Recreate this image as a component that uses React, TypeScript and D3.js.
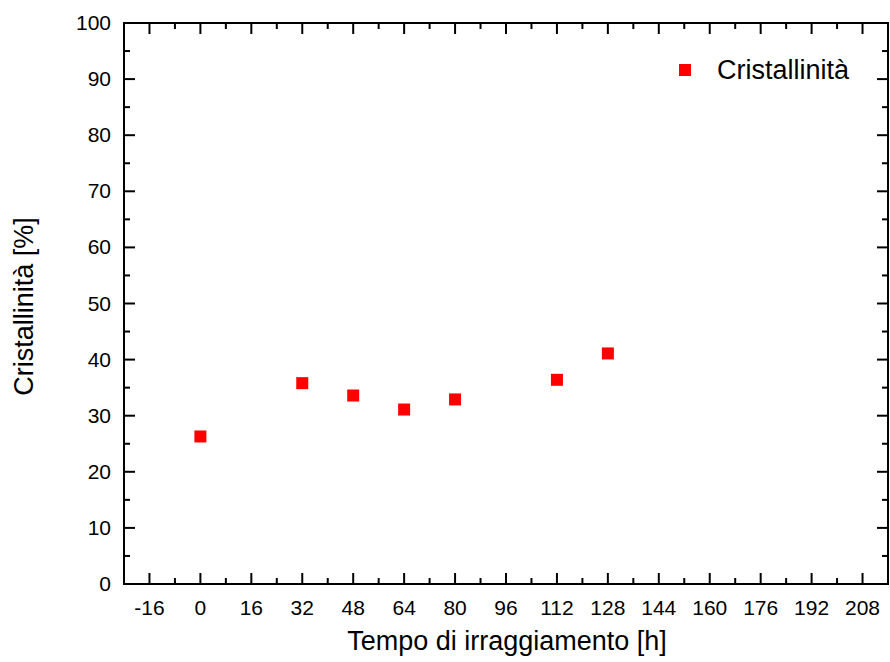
import React from "react";
import * as d3 from "d3";

const hours = [0, 32, 48, 64, 80, 112, 128];
const crystallinity = [26.3, 35.8, 33.6, 31.1, 32.9, 36.4, 41.1];
const xTicks = [-16, 0, 16, 32, 48, 64, 80, 96, 112, 128, 144, 160, 176, 192, 208];
const yTicks = [0, 10, 20, 30, 40, 50, 60, 70, 80, 90, 100];
const seriesName = "Cristallinità";

export default function App() {
  const W = 890, H = 662;
  const L = 124, R = 888, T = 23, B = 584;
  const x = d3.scaleLinear().domain([-24, 216]).range([L, R]);
  const y = d3.scaleLinear().domain([0, 100]).range([B, T]);
  const xMinor = d3.range(-24, 217, 8).filter((v) => !xTicks.includes(v) && v > -24 && v < 216);
  const yMinor = d3.range(5, 100, 10);
  const font = "Liberation Sans, Arial, sans-serif";
  const maj = 11, mnr = 6;
  return (
    <svg width={W} height={H} style={{ position: "absolute", left: 0, top: 0, background: "#fff" }}>
      <g stroke="#000" strokeWidth={2}>
        {xTicks.map((v) => (
          <g key={"xt" + v}>
            <line x1={x(v)} x2={x(v)} y1={B} y2={B - maj} />
            <line x1={x(v)} x2={x(v)} y1={T} y2={T + maj} />
          </g>
        ))}
        {xMinor.map((v) => (
          <g key={"xm" + v}>
            <line x1={x(v)} x2={x(v)} y1={B} y2={B - mnr} />
            <line x1={x(v)} x2={x(v)} y1={T} y2={T + mnr} />
          </g>
        ))}
        {yTicks.map((v) => (
          <g key={"yt" + v}>
            <line x1={L} x2={L + maj} y1={y(v)} y2={y(v)} />
            <line x1={R} x2={R - maj} y1={y(v)} y2={y(v)} />
          </g>
        ))}
        {yMinor.map((v) => (
          <g key={"ym" + v}>
            <line x1={L} x2={L + mnr} y1={y(v)} y2={y(v)} />
            <line x1={R} x2={R - mnr} y1={y(v)} y2={y(v)} />
          </g>
        ))}
        <rect x={L} y={T} width={R - L} height={B - T} fill="none" />
      </g>
      <g fontFamily={font} fontSize={21} fill="#000">
        {xTicks.map((v) => (
          <text key={"xl" + v} x={x(v)} y={B + 31} textAnchor="middle">{v}</text>
        ))}
        {yTicks.map((v) => (
          <text key={"yl" + v} x={L - 13} y={y(v) + 7} textAnchor="end">{v}</text>
        ))}
      </g>
      <text x={(L + R) / 2 + 1} y={650} textAnchor="middle" fontFamily={font} fontSize={27}>
        Tempo di irraggiamento [h]
      </text>
      <text transform={`translate(33,${(T + B) / 2 + 3}) rotate(-90)`} textAnchor="middle" fontFamily={font} fontSize={27}>
        Cristallinità [%]
      </text>
      <g fill="#ff0000">
        {hours.map((h, i) => (
          <rect key={"p" + i} x={x(h) - 6} y={y(crystallinity[i]) - 6} width={12} height={12} />
        ))}
      </g>
      <rect x={679} y={64} width={12} height={12} fill="#ff0000" />
      <text x={717} y={79} fontFamily={font} fontSize={27}>{seriesName}</text>
    </svg>
  );
}
